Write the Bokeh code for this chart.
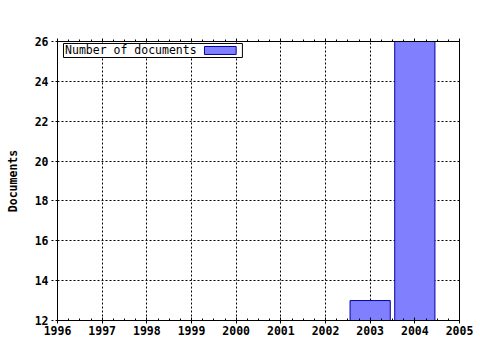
from bokeh.plotting import figure
from bokeh.models import (LinearAxis, Range1d, SingleIntervalTicker, BoxAnnotation, Label)
from bokeh.embed import file_html
from bokeh.resources import INLINE

years = [2003, 2004]
documents = [13, 26]
x_ticks = list(range(1996, 2006))
y_ticks = list(range(12, 27, 2))
legend_label = "Number of documents"
y_title = "Documents"

FONT = "DejaVu Sans Mono"
BAR_FILL = "#8080ff"
BAR_LINE = "#0000a0"

p = figure(width=480, height=350, output_backend="svg", toolbar_location=None,
           x_range=Range1d(x_ticks[0], x_ticks[-1]), y_range=Range1d(y_ticks[0], y_ticks[-1]),
           x_axis_location=None, y_axis_location=None,
           min_border_left=57, min_border_right=21, min_border_top=41, min_border_bottom=30)
p.outline_line_color = None
p.background_fill_color = "white"
p.border_fill_color = "white"

p.vbar(x=years, top=documents, bottom=y_ticks[0], width=0.9,
       fill_color=BAR_FILL, line_color=BAR_LINE, line_width=1)

xt = SingleIntervalTicker(interval=1, num_minor_ticks=4)
yt = SingleIntervalTicker(interval=2, num_minor_ticks=0)

bottom = LinearAxis(ticker=xt)
bottom.major_label_text_font = FONT
bottom.major_label_text_font_style = "bold"
bottom.major_label_text_font_size = "11.5px"
bottom.major_label_text_color = "black"
bottom.major_tick_out = 3
bottom.major_tick_in = 3
bottom.minor_tick_in = 2
bottom.minor_tick_out = 0
bottom.major_label_standoff = 2
bottom.axis_line_color = "black"
p.add_layout(bottom, "below")

top = LinearAxis(ticker=SingleIntervalTicker(interval=1, num_minor_ticks=4))
top.major_label_text_font_size = "0px"
top.major_label_text_alpha = 0
top.major_tick_out = 3
top.major_tick_in = 0
top.minor_tick_out = 2
top.minor_tick_in = 0
top.major_label_standoff = 0
p.add_layout(top, "above")

left = LinearAxis(ticker=yt, axis_label=y_title)
left.major_label_text_font = FONT
left.major_label_text_font_style = "bold"
left.major_label_text_font_size = "11.5px"
left.major_label_text_color = "black"
left.major_tick_out = 6
left.major_tick_in = 0
left.major_tick_line_dash = "2 2"
left.minor_tick_out = 0
left.minor_tick_in = 0
left.major_label_standoff = 3
left.axis_label_text_font = FONT
left.axis_label_text_font_style = "bold"
left.axis_label_text_font_size = "11.5px"
left.axis_label_text_color = "black"
left.axis_label_standoff = 12
p.add_layout(left, "left")

right = LinearAxis(ticker=SingleIntervalTicker(interval=2, num_minor_ticks=0))
right.major_label_text_font_size = "0px"
right.major_label_text_alpha = 0
right.major_tick_out = 0
right.major_tick_in = 0
right.minor_tick_out = 0
right.minor_tick_in = 0
right.major_label_standoff = 0
p.add_layout(right, "right")

p.xgrid.ticker = xt
p.ygrid.ticker = yt
for g in (p.xgrid, p.ygrid):
    g.grid_line_color = "black"
    g.grid_line_dash = "2 2"
    g.grid_line_width = 1

# legend (label left, swatch right)
p.add_layout(BoxAnnotation(left=1996.134, right=2000.14, bottom=25.197, top=25.9,
                           fill_color="white", fill_alpha=1, line_color="black",
                           line_alpha=1, line_width=1, level="annotation"))
p.add_layout(BoxAnnotation(left=1999.29, right=2000.0, bottom=25.35, top=25.75,
                           fill_color=BAR_FILL, fill_alpha=1, line_color=BAR_LINE,
                           line_alpha=1, line_width=1, level="annotation"))
p.add_layout(Label(x=1996.17, y=25.55, text=legend_label, text_font=FONT,
                   text_font_size="11.5px", text_color="black",
                   text_baseline="middle", text_align="left"))

open("out.html", "w").write(file_html(p, INLINE))
